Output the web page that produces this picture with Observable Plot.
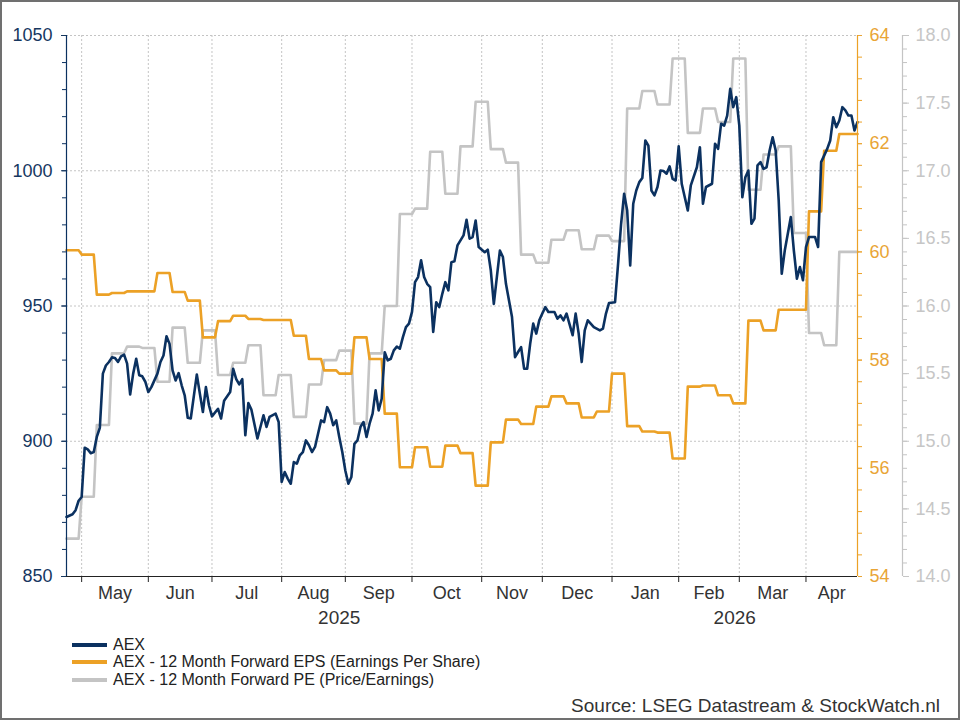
<!DOCTYPE html>
<html>
<head>
<meta charset="utf-8">
<script src="https://cdn.jsdelivr.net/npm/d3@7"></script>
<script src="https://cdn.jsdelivr.net/npm/@observablehq/plot@0.6"></script>
<style>
  html, body { margin: 0; padding: 0; background: #fff; }
  #wrap { position: relative; width: 960px; height: 720px; overflow: hidden; font-family: "Liberation Sans", Arial, sans-serif; background: #fff; }
  #chart { position: absolute; left: 0; top: 0; }
  #border { position: absolute; left: 0; top: 0; width: 960px; height: 720px; box-sizing: border-box; border: 2px solid #707070; pointer-events: none; }
  #legend { position: absolute; left: 72px; top: 636px; font-size: 16px; color: #222; }
  #legend .row { height: 17.5px; display: flex; align-items: center; white-space: nowrap; }
  #legend .sw { width: 35px; height: 4px; margin-right: 6px; }
  #source { position: absolute; right: 20px; top: 695px; font-size: 19px; color: #333; white-space: nowrap; }
</style>
</head>
<body>
<div id="wrap">
  <div id="chart"></div>
  <div id="legend"></div>
  <div id="source"></div>
  <div id="border"></div>
</div>
<script>
// ---------------- DATA ----------------
const seriesStart = "2025-04-24";   // first trading day shown
const seriesEnd   = "2026-04-24";   // last trading day shown

// AEX daily close, one entry per trading day (Mon-Fri) from seriesStart; null = not read
const aexClose = [
  872, null, 873, 874.5, 878, 879.4, 897.6, 897, 895.6, 896,
  901.6, 905, 925, 928, 929.3, 931, 930.8, 929.3, 931.4, 932,
  928.7, 917.3, 925, 930.5, 924.4, 924, 922, 918.2, 920, null,
  925, 929.3, 931.7, 938.8, 936, 926.2, 922.5, 925.2, 920.7, 917,
  908.7, 908.4, null, 924.7, 917.6, 910.8, 920, 913.3, 909.2, null,
  912, 908.4, 915, null, 918.2, 926.8, 923, 921, 923, 902.2,
  914.1, 911.7, null, 901, null, 909.6, 905.3, 909, null, 910.2,
  907.1, 885, 888.6, 886.2, 884.3, 892.3, 891.7, 894.8, 896, 900.3,
  898.5, 896, 897.9, null, 907.7, 907.1, 912.6, 910.2, 905.9, 907.7,
  901.6, 896, 889.2, 884.3, 886.8, 899, 900.3, 905.3, 907.1, 901.6,
  906.5, 910.2, 918.8, 911.4, 915.7, 932.9, 929.9, 930.5, 933.6, 935,
  934.2, 938.5, 942.2, 943.5, 947.8, 958.8, 960.7, 966.9, 960.7, 958.2,
  957, 940.4, 951.4, 949.6, 954.5, 958.8, 955.8, 966.2, 966.5, 972.4,
  null, 976.1, 981.9, 974.9, 975.5, 981.6, 971.8, null, 969.9, 970.8,
  963.2, 950.8, 960.7, 970.5, 968.1, 958.2, null, 945.9, 931.1, 933,
  934.8, 926.8, 926.8, 936.1, 943.5, 939.8, 944.7, 947.2, 949.6, 947.8,
  null, 947.8, 945.3, 946.5, 944.7, 947.2, null, 939.2, 947.2, 939.8,
  929.3, 941, 944.7, null, 942.2, null, 941, 941.6, 947.2, 951.1,
  null, 951.4, 965.6, 980.4, 991.5, 985.3, 965, 987.8, 992.7, 995.8,
  997.3, 1011.2, 1009.3, 992.7, 990.9, 994, 1000.1, 999.9, 998.9, 1001.6,
  997, 996.4, 1009, 995.2, null, 985.3, 994.6, null, 1001.3, 1008.7,
  987.8, 994, null, 995.2, 1010, 1008.1, 1017.4, 1016.7, 1020.4, 1030.3,
  1023.5, 1027.2, 1016.7, 990.2, 997.6, 1000.1, 980.4, 982.3, 1002, 1003.2,
  1000.7, 1001.3, 1007.5, 1012.4, 1007.5, 989, 961.9, 970.5, null, 982.9,
  970.5, 960.1, 964.4, 959.5, 971.8, 975.5, null, 975.5, 971.8, 1003.2,
  null, 1008.1, 1011.2, 1019.8, 1016.1, 1018.6, 1023.5, 1022.3, 1020.4, 1020.4,
  1014.9, 1018
];

// 12 Month Forward EPS: weekly values, date = day the value takes effect
const epsDates = ["2025-04-24","2025-05-01","2025-05-08","2025-05-15","2025-05-22","2025-06-05","2025-06-12","2025-06-19","2025-06-26","2025-07-03","2025-07-10","2025-07-17","2025-07-24","2025-08-07","2025-08-14","2025-08-21","2025-08-28","2025-09-04","2025-09-11","2025-09-18","2025-09-25","2025-10-02","2025-10-09","2025-10-16","2025-10-23","2025-10-30","2025-11-06","2025-11-13","2025-11-20","2025-11-27","2025-12-04","2025-12-11","2025-12-18","2025-12-25","2026-01-01","2026-01-08","2026-01-15","2026-01-22","2026-01-29","2026-02-05","2026-02-12","2026-02-19","2026-02-26","2026-03-05","2026-03-12","2026-03-19","2026-04-02","2026-04-09","2026-04-16","2026-04-24"];
const epsValues = [60.03,59.95,59.21,59.24,59.27,59.61,59.26,59.10,58.42,58.72,58.82,58.76,58.74,58.45,58.02,57.81,57.75,58.42,58.02,57.01,56.02,56.39,56.03,56.42,56.28,55.68,56.48,56.90,56.82,57.14,57.33,57.20,56.94,57.05,57.75,56.78,56.68,56.66,56.18,57.51,57.53,57.35,57.20,58.73,58.55,58.93,60.75,61.87,62.18,62.18];

// 12 Month Forward PE: weekly values
const peDates = ["2025-04-24","2025-05-01","2025-05-08","2025-05-15","2025-05-22","2025-05-29","2025-06-05","2025-06-12","2025-06-19","2025-06-26","2025-07-03","2025-07-10","2025-07-17","2025-07-24","2025-07-31","2025-08-07","2025-08-14","2025-08-21","2025-08-28","2025-09-04","2025-09-11","2025-09-18","2025-09-25","2025-10-02","2025-10-09","2025-10-16","2025-10-23","2025-10-30","2025-11-06","2025-11-13","2025-11-20","2025-11-27","2025-12-04","2025-12-11","2025-12-18","2025-12-25","2026-01-01","2026-01-08","2026-01-15","2026-01-22","2026-01-29","2026-02-05","2026-02-12","2026-02-19","2026-02-26","2026-03-05","2026-03-12","2026-03-19","2026-03-26","2026-04-02","2026-04-09","2026-04-16","2026-04-24"];
const peValues = [14.28,14.59,15.12,15.65,15.70,15.69,15.44,15.84,15.58,15.82,15.49,15.58,15.71,15.34,15.49,15.18,15.42,15.60,15.67,15.13,15.65,16.00,16.68,16.72,17.14,16.83,17.18,17.51,17.16,17.06,16.38,16.32,16.49,16.56,16.42,16.52,16.48,17.46,17.59,17.49,17.83,17.28,17.46,17.36,17.83,16.86,17.12,17.18,16.54,15.80,15.71,16.40,16.40];

// Axis tick values and labels
const aexTicks = [850, 900, 950, 1000, 1050];
const aexMinorTicks = d3.range(850, 1051, 10);
const epsTicks = [54, 56, 58, 60, 62, 64];
const epsMinorTicks = d3.range(0, 26).map(k => 54 + k * 0.4);
const peTicks = [14.0, 14.5, 15.0, 15.5, 16.0, 16.5, 17.0, 17.5, 18.0];
const peMinorTicks = d3.range(0, 41).map(k => 14 + k * 0.1);
const monthLabels = ["May","Jun","Jul","Aug","Sep","Oct","Nov","Dec","Jan","Feb","Mar","Apr"];
const yearLabels = ["2025","2026"];
const seriesNames = ["AEX", "AEX - 12 Month Forward EPS (Earnings Per Share)", "AEX - 12 Month Forward PE (Price/Earnings)"];
const sourceText = "Source: LSEG Datastream & StockWatch.nl";

// ---------------- BUILD ----------------
const navy = "#0b3160", navyText = "#16375f";
const orange = "#eca126", orangeText = "#e9a535";
const gray = "#c4c4c4", grayText = "#c6c6c6";
const seriesColors = [navy, orange, gray];

const parse = d3.utcParse("%Y-%m-%d");
const t0 = parse(seriesStart), t1 = parse(seriesEnd);
const tradingDays = d3.utcDay.range(t0, d3.utcDay.offset(t1, 1)).filter(d => d.getUTCDay() !== 0 && d.getUTCDay() !== 6);
const lastIdx = tradingDays.length - 1;
const dayIndex = new Map(tradingDays.map((d, i) => [+d, i]));
const idx = s => dayIndex.get(+parse(s));

// secondary scales mapped into the AEX scale (850..1050)
const epsToY = v => 850 + (v - 54) * 20;
const peToY = v => 850 + (v - 14) * 50;

const aex = aexClose.map((v, i) => ({i, v})).filter(d => d.v != null);
// weekly series drawn on the daily axis: value held until the day before the next update
const heldSeries = (dates, values, toY) => {
  const out = [];
  dates.forEach((s, k) => {
    const i = idx(s);
    if (k > 0 && i < lastIdx) out.push({x: i - 1, y: toY(values[k - 1])});
    out.push({x: i, y: toY(values[k])});
  });
  return out;
};
const eps = heldSeries(epsDates, epsValues, epsToY);
const pe = heldSeries(peDates, peValues, peToY);

const monthStarts = [], yearStarts = [];
for (let i = 1; i <= lastIdx; i++) {
  if (tradingDays[i].getUTCMonth() !== tradingDays[i - 1].getUTCMonth()) monthStarts.push(i);
  if (tradingDays[i].getUTCFullYear() !== tradingDays[i - 1].getUTCFullYear()) yearStarts.push(i);
}
const segments = (starts) => {
  const b = [0, ...starts, lastIdx], out = [];
  for (let k = 0; k < b.length - 1; k++) if (b[k + 1] - b[k] >= 10) out.push({mid: (b[k] + b[k + 1]) / 2});
  return out;
};
const monthSegs = segments(monthStarts).map((s, k) => ({...s, label: monthLabels[k]}));
const yearSegs = segments(yearStarts).map((s, k) => ({...s, label: yearLabels[k]}));

const gridStyle = {stroke: "#c4c4c4", strokeOpacity: 1, strokeDasharray: "2,2", strokeWidth: 1};

const chart = Plot.plot({
  width: 960,
  height: 636,
  marginLeft: 66,
  marginRight: 103,
  marginTop: 35,
  marginBottom: 60,
  x: {domain: [0, lastIdx]},
  y: {domain: [850, 1050]},
  style: {fontFamily: "'Liberation Sans', Arial, sans-serif", fontSize: "18px", background: "transparent"},
  marks: [
    Plot.gridY(aexTicks.filter(v => v > 850), gridStyle),
    Plot.gridX(monthStarts, gridStyle),
    Plot.line(pe, {x: "x", y: "y", stroke: gray, strokeWidth: 2.6}),
    Plot.line(eps, {x: "x", y: "y", stroke: orange, strokeWidth: 2.6}),
    Plot.line(aex, {x: "i", y: "v", stroke: navy, strokeWidth: 2.6, strokeLinejoin: "round"}),
    // axis lines
    Plot.ruleX([0], {stroke: navy, strokeWidth: 1.2}),
    Plot.ruleX([lastIdx], {stroke: orange, strokeWidth: 1.2}),
    Plot.ruleX([lastIdx], {stroke: gray, strokeWidth: 1.2, dx: 45}),
    Plot.ruleY([850], {stroke: "#222", strokeWidth: 1.2}),
    // left AEX axis
    Plot.axisY({anchor: "left", ticks: aexMinorTicks, tickSize: 4, tickFormat: () => "", stroke: navy, label: null}),
    Plot.axisY({anchor: "left", ticks: aexTicks, tickSize: 5, tickPadding: 9, tickFormat: d => String(d), color: navyText, label: null}),
    // EPS axis
    Plot.axisY({anchor: "right", ticks: epsMinorTicks.map(epsToY), tickSize: 4, tickFormat: () => "", stroke: orange, label: null}),
    Plot.axisY({anchor: "right", ticks: epsTicks.map(epsToY), tickSize: 4, tickPadding: 8,
      tickFormat: y => String(epsTicks.find(v => Math.abs(epsToY(v) - y) < 1e-6)), color: orangeText, label: null}),
    // PE axis
    Plot.axisY({anchor: "right", ticks: peMinorTicks.map(peToY), tickSize: 4, dx: 45, tickFormat: () => "", stroke: gray, label: null}),
    Plot.axisY({anchor: "right", ticks: peTicks.map(peToY), tickSize: 6, tickPadding: 7, dx: 45,
      tickFormat: y => peTicks.find(v => Math.abs(peToY(v) - y) < 1e-6).toFixed(1), color: grayText, label: null}),
    // bottom axis
    Plot.axisX({ticks: monthStarts, tickSize: 6, tickFormat: () => "", stroke: "#222", label: null}),
    Plot.text(monthSegs, {x: "mid", text: "label", frameAnchor: "bottom", dy: 22, fill: "#333", fontSize: 18}),
    Plot.text(yearSegs, {x: "mid", text: "label", frameAnchor: "bottom", dy: 47, fill: "#333", fontSize: 19})
  ]
});
document.getElementById("chart").appendChild(chart);

// legend
const legend = document.getElementById("legend");
seriesNames.forEach((name, k) => {
  const row = document.createElement("div");
  row.className = "row";
  const sw = document.createElement("div");
  sw.className = "sw";
  sw.style.background = seriesColors[k];
  const tx = document.createElement("span");
  tx.textContent = name;
  row.appendChild(sw);
  row.appendChild(tx);
  legend.appendChild(row);
});
document.getElementById("source").textContent = sourceText;
</script>
</body>
</html>
